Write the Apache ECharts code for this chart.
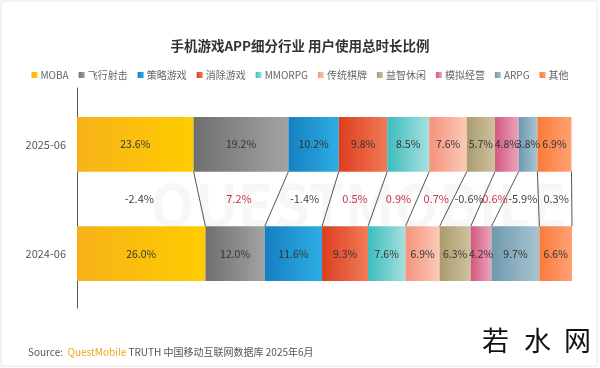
<!DOCTYPE html>
<html>
<head>
<meta charset="utf-8">
<script src="https://cdn.jsdelivr.net/npm/echarts@6/dist/echarts.min.js"></script>
<style>html,body{margin:0;padding:0;background:#fff}#c{width:600px;height:368px}</style>
</head>
<body>
<div id="c"></div>
<script>
const categories = ['MOBA','飞行射击','策略游戏','消除游戏','MMORPG','传统棋牌','益智休闲','模拟经营','ARPG','其他'];
const periods = ['2025-06','2024-06'];
const share2025 = [23.6,19.2,10.2,9.8,8.5,7.6,5.7,4.8,3.8,6.9];
const share2024 = [26.0,12.0,11.6,9.3,7.6,6.9,6.3,4.2,9.7,6.6];
const changeLabels = ['-2.4%','7.2%','-1.4%','0.5%','0.9%','0.7%','-0.6%','0.6%','-5.9%','0.3%'];

const gradStops = [
  ['#f7b21a','#ffcc00'],
  ['#6f6f6f','#a3a3a3'],
  ['#167fc2','#2eaee4'],
  ['#dc3f1f','#f27a58'],
  ['#3dbdbd','#a6e0df'],
  ['#f4937a','#fcc9b9'],
  ['#ab9c6c','#cdc29f'],
  ['#d4587f','#eba3ba'],
  ['#6e98ad','#a9c5d2'],
  ['#f97b3a','#ffa173']
];
const changeColors = ['#444','#c8324a','#444','#c8324a','#c8324a','#c8324a','#444','#c8324a','#444','#444'];
const FONT = '"Noto Sans CJK SC", "Noto Sans", sans-serif';

function sum(a){return a.reduce((s,v)=>s+v,0);}
const xMax = Math.max(sum(share2025), sum(share2024));
const yCats = [periods[0], '', periods[1]];

const barSeries = categories.map((name,i)=>({
  type:'bar', name, stack:'total', barWidth:'100%', xAxisIndex:0, yAxisIndex:0,
  data:[share2025[i], '-', share2024[i]],
  itemStyle:{color:new echarts.graphic.LinearGradient(0,0,1,0,[{offset:0,color:gradStops[i][0]},{offset:1,color:gradStops[i][1]}])},
  label:{show:true, position:'inside', fontSize:10.5, fontFamily:FONT, color:'#333',
    formatter:p=>Number(p.value).toFixed(1)+'%'},
  emphasis:{disabled:true}
}));

const connector = {
  type:'custom', xAxisIndex:0, yAxisIndex:0, z:5,
  data: categories.map((c,i)=>[i,1]),
  renderItem:function(params, api){
    const i = api.value(0);
    const cumTop = sum(share2025.slice(0,i+1));
    const cumBot = sum(share2024.slice(0,i+1));
    const half = api.size([0,1])[1]/2;
    const pTop = api.coord([cumTop, 0]);
    const pBot = api.coord([cumBot, 2]);
    const midX = ((cumTop - share2025[i]/2) + (cumBot - share2024[i]/2))/2;
    const pMid = api.coord([midX, 1]);
    return {type:'group', children:[
      {type:'line', shape:{x1:pTop[0], y1:pTop[1]+half, x2:pBot[0], y2:pBot[1]-half},
        style:{stroke:'#555', lineWidth:1}},
      {type:'text', x:pMid[0]+1, y:pMid[1],
        style:{text:changeLabels[i], fill:changeColors[i], fontSize:11, fontFamily:FONT, align:'center', verticalAlign:'middle'}}
    ]};
  }
};

const chart = echarts.init(document.getElementById('c'));
chart.setOption({
  animation:false,
  backgroundColor:'#fff',
  title:{text:'手机游戏APP细分行业 用户使用总时长比例', left:'center', top:34,
    textStyle:{fontSize:13.5, fontWeight:'bold', color:'#333', fontFamily:FONT}},
  legend:{top:65, left:'center', itemWidth:6, itemHeight:6, itemGap:10, icon:'rect',
    data:categories,
    textStyle:{fontSize:10, color:'#666', fontFamily:FONT, padding:[0,0,0,-2]}},
  grid:[
    {left:77, right:28, top:117, height:164},
    {left:77, right:28, top:88, height:220}
  ],
  xAxis:[
    {type:'value', gridIndex:0, min:0, max:xMax, show:false},
    {type:'value', gridIndex:1, min:0, max:1, show:false}
  ],
  yAxis:[
    {type:'category', gridIndex:0, data:yCats, inverse:true,
      axisLine:{show:false}, axisTick:{show:false}, splitLine:{show:false},
      axisLabel:{color:'#555', fontSize:11, margin:11, fontFamily:FONT}},
    {type:'value', gridIndex:1, min:0, max:1,
      axisLine:{show:true, lineStyle:{color:'#555', width:1}},
      axisTick:{show:false}, axisLabel:{show:false}, splitLine:{show:false}}
  ],
  graphic:[
    {type:'rect', z:-10, shape:{x:1,y:1,width:596,height:365}, style:{fill:'none', stroke:'#e6e6e6', lineWidth:1}},
    {type:'text', z:-5, left:150, top:176, style:{text:'QUESTMOBILE', fontSize:58, fontWeight:'bold', fontFamily:FONT, fill:'rgba(0,0,0,0.03)'}},
    {type:'text', left:28, top:347, style:{
      text:'{a|Source:  }{b|QuestMobile}{a| TRUTH 中国移动互联网数据库 2025年6月}',
      rich:{a:{fontSize:10, fill:'#555', fontFamily:FONT}, b:{fontSize:10, fill:'#f0a51e', fontFamily:FONT}}}},
    {type:'text', left:482, top:327, style:{text:'若', fontSize:27, fill:'#111', fontFamily:FONT}},
    {type:'text', left:524, top:327, style:{text:'水', fontSize:27, fill:'#111', fontFamily:FONT}},
    {type:'text', left:564, top:327, style:{text:'网', fontSize:27, fill:'#111', fontFamily:FONT}}
  ],
  series:[...barSeries, connector]
});
</script>
</body>
</html>
